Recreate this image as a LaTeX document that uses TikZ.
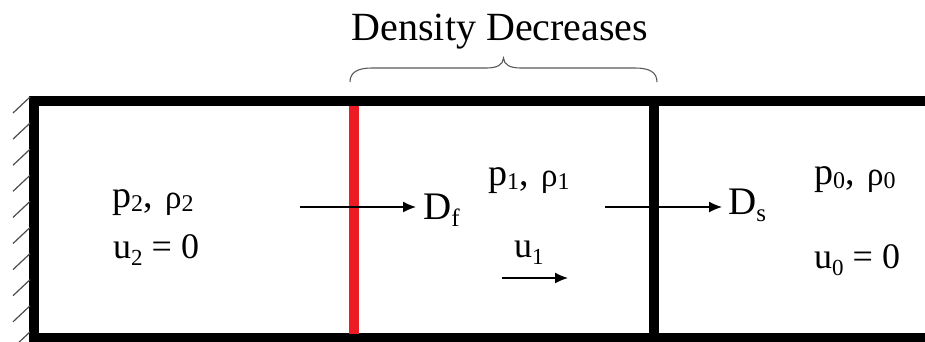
\documentclass[tikz,border=0pt]{standalone}
\usepackage{fontspec}
\setmainfont{Liberation Serif}
\usetikzlibrary{arrows.meta}
\definecolor{wallred}{RGB}{237,28,36}
\newcommand\sbp[1]{\raisebox{-0.12em}{\fontsize{24}{24}\selectfont #1}}
\newcommand\sbu[1]{\raisebox{-0.22em}{\fontsize{23}{23}\selectfont #1}}
\newcommand\rh{{\fontsize{33}{33}\selectfont\raisebox{-0.06em}{ρ}}}
\newcommand\gapx{\ \kern3pt}
\begin{document}
\begin{tikzpicture}[x=1pt,y=-1pt,
  wall/.style={line width=9.5pt},
  hatch/.style={black!70,line width=1.2pt},
  arr/.style={line width=1.4pt,-{Latex[length=13pt,width=11pt]}},
  brc/.style={black!65,line width=1.1pt},
  lbl/.style={anchor=base west,inner sep=0pt,font=\fontsize{38}{44}\selectfont},
  ulbl/.style={anchor=base west,inner sep=0pt,font=\fontsize{36}{42}\selectfont},
  ttl/.style={anchor=base,inner sep=0pt,font=\fontsize{40}{46}\selectfont}]
\useasboundingbox (0,0) rectangle (925,341);
% walls
\draw[wall,line join=miter] (930,101) -- (34,101) -- (34,338) -- (930,338);
\draw[wall] (654,101) -- (654,338);
\draw[wall,wallred] (354,105.5) -- (354,333.5);
\foreach \i in {0,...,9} \draw[hatch] (13,{113+26.1*\i}) -- (30,{97+26.1*\i});
% brace and title
\draw[brc] (350,82) .. controls (350,72) and (358,68) .. (372,68) -- (486,68)
  .. controls (497,68) and (503,65) .. (503.5,58)
  .. controls (504,65) and (510,68) .. (521,68) -- (635,68)
  .. controls (649,68) and (657,72) .. (657,82);
\node[ttl] (title) at (500,40) {Density Decreases};
% labels
\node[lbl] (p2) at (112,207) {p\sbp{2},\gapx\rh\sbp{2}};
\node[ulbl] (u2) at (113,258) {u\sbu{2} = 0};
\node[lbl,font=\fontsize{39}{44}\selectfont] (df) at (423,219) {D\raisebox{-0.2em}{\fontsize{25}{25}\selectfont f}};
\node[lbl] (p1) at (488,185) {p\sbp{1},\gapx\rh\sbp{1}};
\node[ulbl] (u1) at (514,257) {u\sbu{1}};
\node[lbl,font=\fontsize{39}{44}\selectfont] (ds) at (728,214) {D\raisebox{-0.2em}{\fontsize{25}{25}\selectfont s}};
\node[lbl] (p0) at (814,184) {p\sbp{0},\gapx\rh\sbp{0}};
\node[ulbl] (u0) at (814,268) {u\sbu{0} = 0};
% arrows
\coordinate (fa) at (300,207); \coordinate (fb) at (416,207);
\coordinate (sa) at (605,207); \coordinate (sb) at (722,207);
\coordinate (ua) at (502,278); \coordinate (ub) at (568,278);
\draw[arr] (fa) -- (fb);
\draw[arr] (sa) -- (sb);
\draw[arr] (ua) -- (ub);
\end{tikzpicture}
\end{document}
